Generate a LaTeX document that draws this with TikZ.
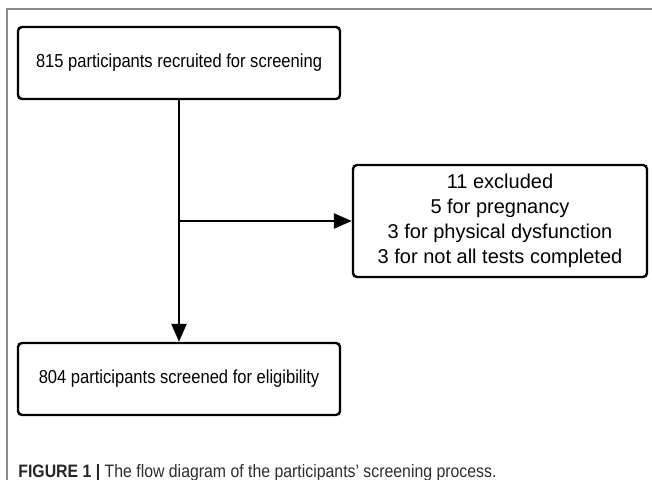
\documentclass[tikz,border=0pt]{standalone}
\usepackage{fontspec}
\setmainfont{Liberation Sans}
\newfontfamily\narrowfont[FakeStretch=0.88]{Liberation Sans}
\usetikzlibrary{arrows.meta}

\definecolor{framegray}{RGB}{140,140,140}
\definecolor{captiongray}{RGB}{45,45,45}

\tikzset{
  stage/.style={draw, line width=1.2pt, rounded corners=2pt, align=center,
    minimum width=161pt, minimum height=36pt, inner sep=0pt,
    font=\narrowfont\fontsize{9.4}{11}\selectfont},
  dropout/.style={stage, minimum width=147pt, minimum height=56pt,
    font=\fontsize{10}{12.5}\selectfont},
  flow/.style={line width=1.2pt, -{Triangle[length=9pt,width=7.5pt]}}
}

\begin{document}
\begin{tikzpicture}[x=0.5pt,y=-0.5pt]
                \useasboundingbox (0,0) rectangle (652,480);
                \draw[framegray, line width=0.7pt] (652,9) -- (7,9) -- (7,480);

                \node [stage] (recruited) at (179,63) {815 participants recruited for screening};
                \node [stage] (screened) at (179,379) {804 participants screened for eligibility};
                \node [dropout] (excluded) at (500,221) {11 excluded\\5 for pregnancy\\3 for physical dysfunction\\3 for not all tests completed};

                \coordinate (branch) at (recruited.south |- excluded.west);

                  \draw[flow] (recruited) -- (screened);
                  \draw[flow] (branch) -- (excluded);

                \node [anchor=base west, inner sep=0pt, text=captiongray, font=\narrowfont\fontsize{9}{11}\selectfont] (caption) at (18,477)
                  {\textbf{\color{black!85}FIGURE 1 |} The flow diagram of the participants’ screening process.};
            \end{tikzpicture}
\end{document}
